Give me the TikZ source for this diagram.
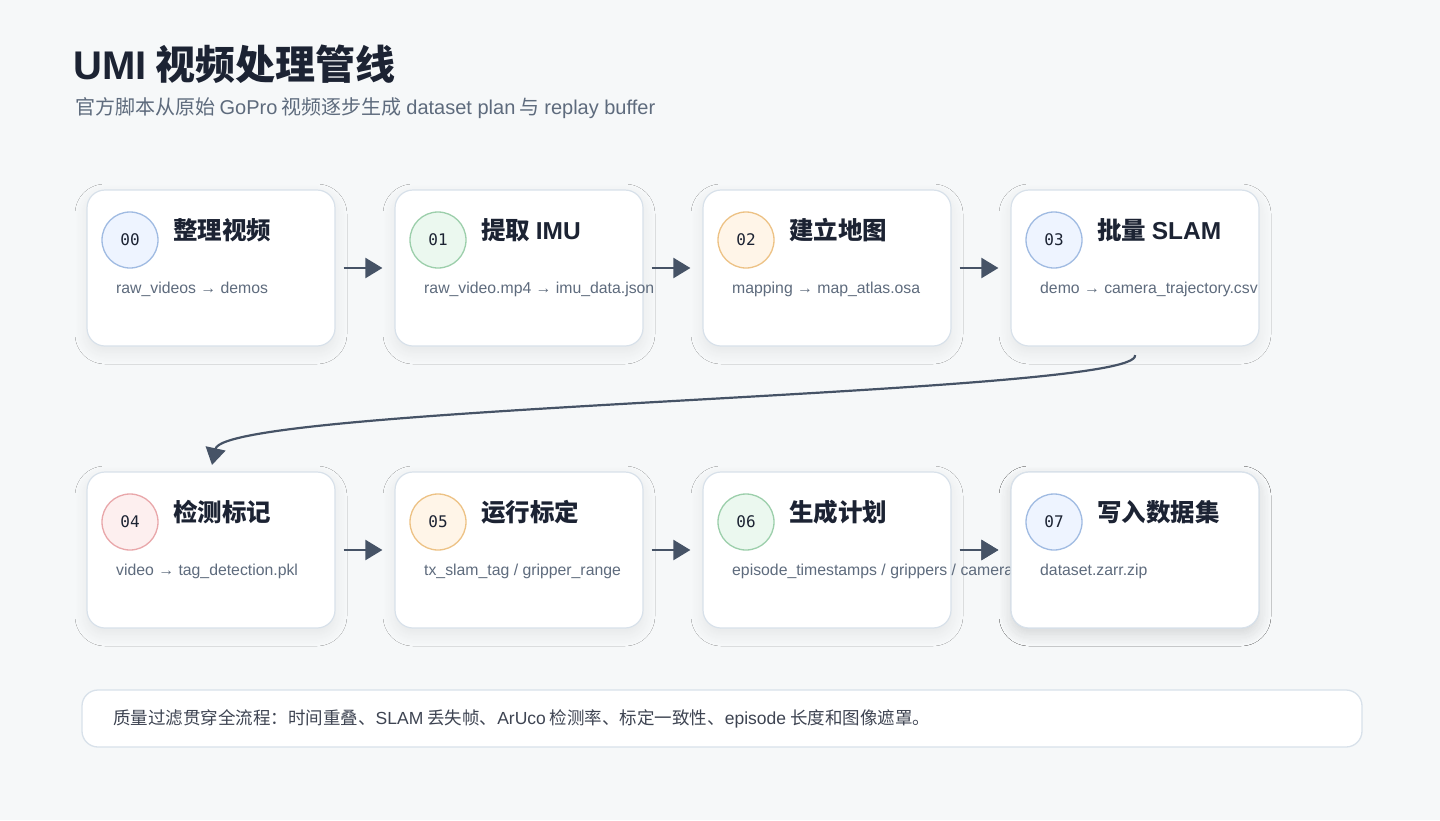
\documentclass[tikz,border=0pt]{standalone}
\usepackage{fontspec}
\setmainfont{Noto Sans CJK SC}
\newfontfamily\monof{DejaVu Sans Mono}
\newfontfamily\latinf{Liberation Sans}
\newcommand{\lt}[1]{{\latinf #1}}
\usetikzlibrary{arrows.meta,shadows.blur}
\definecolor{bg}{HTML}{F6F8F9}
\definecolor{ink}{HTML}{1C2333}
\definecolor{sub}{HTML}{5E6B7D}
\definecolor{bord}{HTML}{D8E1EA}
\definecolor{arr}{HTML}{465366}
\definecolor{bF}{HTML}{EEF4FF}\definecolor{bD}{HTML}{A0BBE2}
\definecolor{gF}{HTML}{EBF8EF}\definecolor{gD}{HTML}{9CCFAB}
\definecolor{oF}{HTML}{FFF5E8}\definecolor{oD}{HTML}{EDC285}
\definecolor{rF}{HTML}{FDEFEF}\definecolor{rD}{HTML}{E9A7AA}
\tikzset{
 card/.style={draw=bord,line width=1.2pt,fill=white,rounded corners=18pt,minimum width=248pt,minimum height=156pt,inner sep=0pt,blur shadow={shadow xshift=0pt,shadow yshift=-6pt,shadow opacity=7,shadow blur radius=12pt,shadow blur steps=12}},
 num/.style={circle,minimum size=56pt,line width=1.3pt,inner sep=0pt,font=\monof\fontsize{16}{19}\selectfont,text=ink},
 ttl/.style={anchor=west,font=\bfseries\fontsize{24.5}{28}\selectfont,text=ink,inner sep=0pt},
 desc/.style={anchor=west,font=\latinf\fontsize{15.8}{18}\selectfont,text=sub,inner sep=0pt},
 flow/.style={arr,line width=2.2pt,-{Triangle[length=17pt,width=20pt]}},
}
\begin{document}
\begin{tikzpicture}[x=1pt,y=-1pt]
\fill[bg] (0,0) rectangle (1440,820);
\useasboundingbox (0,0) rectangle (1440,820);
\node[anchor=west,inner sep=0pt,font=\bfseries\fontsize{40}{46}\selectfont,text=ink] (title) at (73,64) {\lt{UMI} 视频处理管线};
\node[anchor=west,inner sep=0pt,font=\fontsize{20}{24}\selectfont,text=sub] (subt) at (75,108) {官方脚本从原始 \lt{GoPro} 视频逐步生成 \lt{dataset plan} 与 \lt{replay buffer}};
\foreach \i/\x/\y/\nn/\tt/\dd/\ff/\cc in {
 0/211/268/00/{整理视频}/{raw\_videos → demos}/bF/bD,
 1/519/268/01/{提取 \lt{IMU}}/{raw\_video.mp4 → imu\_data.json}/gF/gD,
 2/827/268/02/{建立地图}/{mapping → map\_atlas.osa}/oF/oD,
 3/1135/268/03/{批量 \lt{SLAM}}/{demo → camera\_trajectory.csv}/bF/bD,
 4/211/550/04/{检测标记}/{video → tag\_detection.pkl}/rF/rD,
 5/519/550/05/{运行标定}/{tx\_slam\_tag / gripper\_range}/oF/oD,
 6/827/550/06/{生成计划}/{episode\_timestamps / grippers / cameras}/gF/gD,
 7/1135/550/07/{写入数据集}/{dataset.zarr.zip}/bF/bD}{
 \node[card] (c\i) at (\x,\y) {};
 \node[num,fill=\ff,draw=\cc] (n\i) at (\x-81,\y-28) {\nn};
 \node[ttl] (t\i) at (\x-38,\y-38) {\tt};
 \begin{scope}
  \clip (\x-124,\y-78) rectangle (\x+300,\y+78);
  \node[desc] (d\i) at (\x-95,\y+21) {\dd};
 \end{scope}
}
\foreach \a/\b in {0/1,1/2,2/3,4/5,5/6,6/7}{
 \draw[flow] ([xshift=8pt]c\a.east) -- ([xshift=-12pt]c\b.west);
}
% redraw card 07 over overflowing text of 06
\node[card] (c7b) at (1135,550) {};
\node[num,fill=bF,draw=bD] (n7b) at (1054,522) {07};
\node[ttl] (t7b) at (1097,512) {写入数据集};
\node[desc] (d7b) at (1040,571) {dataset.zarr.zip};
\draw[flow] ([xshift=8pt]c6.east) -- ([xshift=-12pt]c7b.west);
\coordinate (s) at (1135,355);
\coordinate (e) at (212,465);
\draw[flow] (s) .. controls (1145,395) and (225,405) .. (e);
\node[draw=bord,line width=1.3pt,fill=white,rounded corners=16pt,minimum width=1280pt,minimum height=57pt] (note) at (722,718.5) {};
\node[anchor=west,inner sep=0pt,font=\fontsize{17.5}{21}\selectfont,text=ink!85] (notet) at (113,719) {质量过滤贯穿全流程：时间重叠、\lt{SLAM} 丢失帧、\lt{ArUco} 检测率、标定一致性、\lt{episode} 长度和图像遮罩。};
\end{tikzpicture}
\end{document}
